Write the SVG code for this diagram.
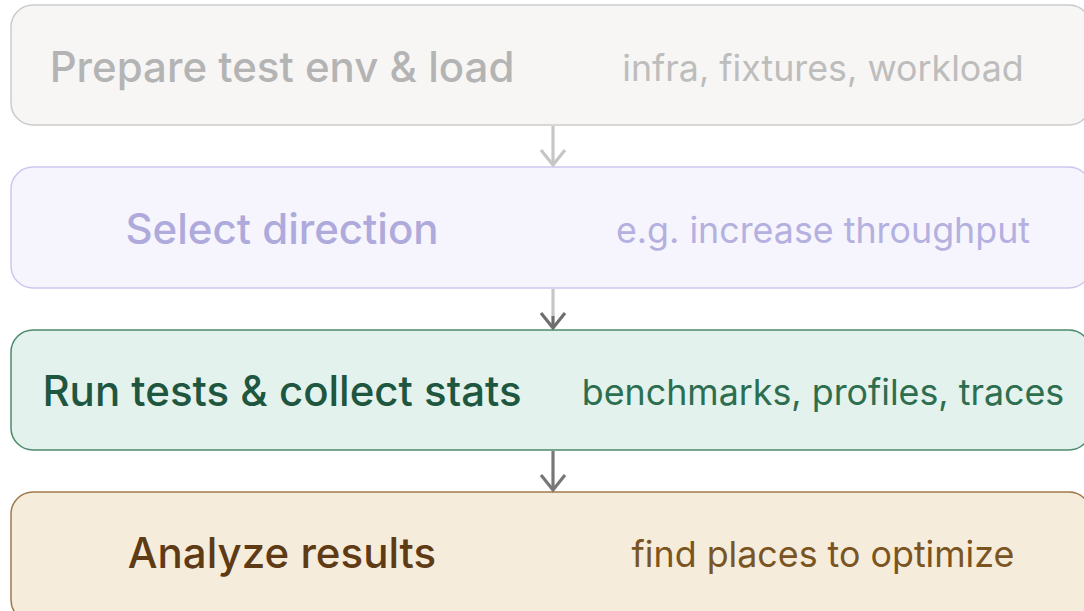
<svg xmlns="http://www.w3.org/2000/svg" width="1084" height="611" viewBox="0 0 1084 611">
  <defs>
    <style>
      .box { stroke-width: 1.5; }
      .title { font-family: Inter, "Noto Sans", sans-serif; font-size: 42px; font-weight: 500; text-anchor: middle; }
      .sub { font-family: Inter, "Noto Sans", sans-serif; font-size: 35.8px; font-weight: 400; text-anchor: middle; }
      .n1 .box { fill: #f7f6f4; stroke: #cbcbcb; }
      .n1 .title { fill: #b4b4b4; }
      .n1 .sub { fill: #bdbdbd; }
      .n2 .box { fill: #f6f5fd; stroke: #cbc7ef; }
      .n2 .title { fill: #aeaadb; }
      .n2 .sub { fill: #b4b0e0; }
      .n3 .box { fill: #e3f2ec; stroke: #4e8a6c; }
      .n3 .title { fill: #1e5640; }
      .n3 .sub { fill: #2e6e50; }
      .n4 .box { fill: #f6ecdc; stroke: #a2784a; }
      .n4 .title { fill: #5e3b14; }
      .n4 .sub { fill: #7a5522; }
      .edge { fill: none; stroke-width: 3.2; stroke-linejoin: miter; }
    </style>
  </defs>

  <g id="node-prepare" class="n1">
    <rect class="box" x="11" y="5" width="1080" height="120" rx="22"/>
    <text class="title" x="282" y="81.5">Prepare test env &amp; load</text>
    <text class="sub" x="823" y="80.5">infra, fixtures, workload</text>
  </g>

  <g id="node-direction" class="n2">
    <rect class="box" x="11" y="167" width="1080" height="121" rx="22"/>
    <text class="title" x="282" y="243.5">Select direction</text>
    <text class="sub" x="823" y="242.5">e.g. increase throughput</text>
  </g>

  <g id="node-run" class="n3">
    <rect class="box" x="11" y="330" width="1080" height="120" rx="22"/>
    <text class="title" x="282" y="405.5">Run tests &amp; collect stats</text>
    <text class="sub" x="823" y="404.5">benchmarks, profiles, traces</text>
  </g>

  <g id="node-analyze" class="n4">
    <rect class="box" x="11" y="492" width="1080" height="130" rx="22"/>
    <text class="title" x="282" y="567.5">Analyze results</text>
    <text class="sub" x="823" y="566.5">find places to optimize</text>
  </g>

  <g id="connectors">
    <!-- prepare -> direction -->
    <line class="edge" x1="553" y1="126" x2="553" y2="165" stroke="#c6c6c6"/>
    <path class="edge" d="M541 150 L553 165 L565 150" stroke="#c6c6c6"/>
    <!-- direction -> run -->
    <line class="edge" x1="553" y1="289" x2="553" y2="316" stroke="#c6c6c6"/>
    <path class="edge" d="M541 313 L553 328 L565 313" stroke="#6e6e6e"/>
    <line class="edge" x1="553" y1="316" x2="553" y2="328" stroke="#6e6e6e"/>
    <!-- run -> analyze -->
    <line class="edge" x1="553" y1="451" x2="553" y2="490" stroke="#777777"/>
    <path class="edge" d="M541 475 L553 490 L565 475" stroke="#777777"/>
  </g>
</svg>
